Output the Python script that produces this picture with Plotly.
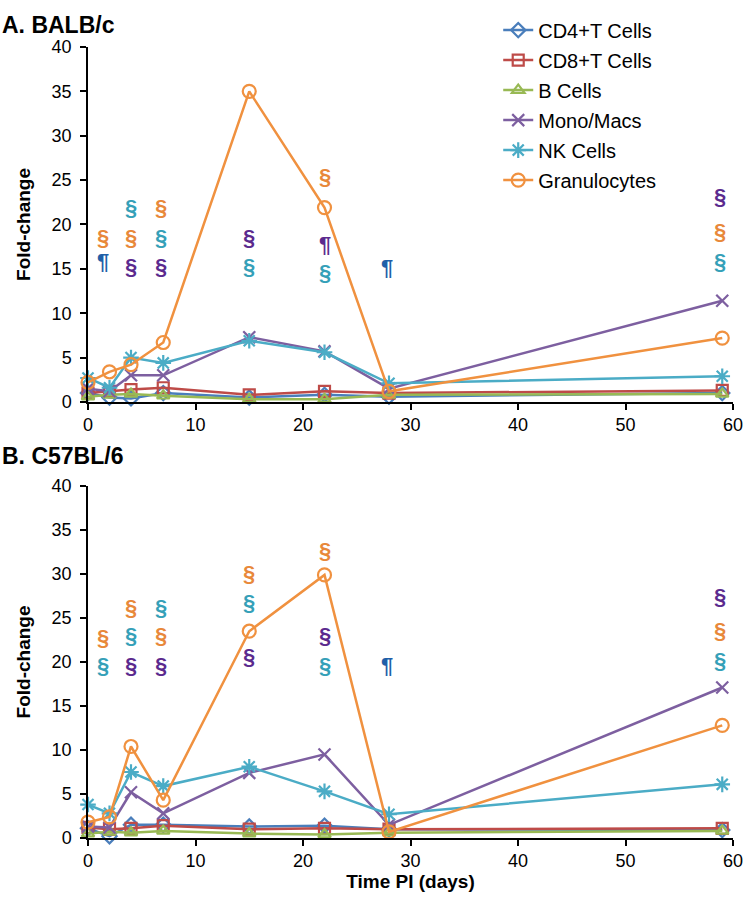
import plotly.graph_objects as go

# ---------------- data ----------------
days = [0, 2, 4, 7, 15, 22, 28, 59]
series_names = ["CD4+T Cells", "CD8+T Cells", "B Cells", "Mono/Macs", "NK Cells", "Granulocytes"]

balb_cd4 = [1.0, 0.5, 0.4, 1.0, 0.5, 0.8, 0.6, 1.0]
balb_cd8 = [1.0, 1.2, 1.4, 1.6, 0.8, 1.2, 1.0, 1.3]
balb_b = [0.6, 0.8, 0.9, 0.7, 0.3, 0.3, 0.8, 0.9]
balb_mono = [1.5, 1.2, 3.0, 3.0, 7.3, 5.7, 1.5, 11.4]
balb_nk = [2.7, 1.6, 5.0, 4.4, 6.9, 5.6, 2.1, 2.9]
balb_gran = [2.2, 3.4, 4.2, 6.7, 35.0, 21.9, 1.2, 7.2]

c57_cd4 = [1.1, 0.2, 1.5, 1.5, 1.3, 1.4, 1.0, 0.9]
c57_cd8 = [1.2, 1.0, 1.1, 1.4, 1.0, 1.1, 1.0, 1.1]
c57_b = [0.5, 0.7, 0.6, 0.8, 0.5, 0.4, 0.6, 0.8]
c57_mono = [1.3, 1.2, 5.2, 2.8, 7.4, 9.5, 1.5, 17.1]
c57_nk = [3.8, 2.8, 7.5, 5.9, 8.1, 5.3, 2.7, 6.1]
c57_gran = [1.8, 2.4, 10.4, 4.3, 23.5, 29.9, 0.7, 12.8]

y_ticks = [0, 5, 10, 15, 20, 25, 30, 35, 40]
x_ticks = [0, 10, 20, 30, 40, 50, 60]

# significance marks: day position, level, symbol, series
balb_sig_x = [1.4, 1.4, 4, 4, 4, 6.8, 6.8, 6.8, 15, 15, 22, 22, 22, 27.8, 58.8, 58.8, 58.8]
balb_sig_y = [18.5, 15.8, 21.9, 18.5, 15.3, 21.9, 18.5, 15.3, 18.5, 15.3, 25.4, 17.7, 14.6, 15.2, 23.1, 19.2, 15.8]
balb_sig_t = ["§", "¶", "§", "§", "§", "§", "§", "§", "§", "§", "§", "¶", "§", "¶", "§", "§", "§"]
balb_sig_s = ["Granulocytes", "CD4+T Cells", "NK Cells", "Granulocytes", "Mono/Macs",
              "Granulocytes", "NK Cells", "Mono/Macs", "Mono/Macs", "NK Cells",
              "Granulocytes", "Mono/Macs", "NK Cells", "CD4+T Cells",
              "Mono/Macs", "Granulocytes", "NK Cells"]

c57_sig_x = [1.4, 1.4, 4, 4, 4, 6.8, 6.8, 6.8, 15, 15, 15, 22, 22, 22, 27.8, 58.8, 58.8, 58.8]
c57_sig_y = [22.8, 19.6, 26.2, 23.0, 19.6, 26.2, 23.0, 19.6, 30.1, 26.8, 20.6, 32.7, 23.0, 19.6, 19.6, 27.5, 23.6, 20.2]
c57_sig_t = ["§", "§", "§", "§", "§", "§", "§", "§", "§", "§", "§", "§", "§", "§", "¶", "§", "§", "§"]
c57_sig_s = ["Granulocytes", "NK Cells", "Granulocytes", "NK Cells", "Mono/Macs",
             "NK Cells", "Granulocytes", "Mono/Macs", "Granulocytes", "NK Cells", "Mono/Macs",
             "Granulocytes", "Mono/Macs", "NK Cells", "CD4+T Cells",
             "Mono/Macs", "Granulocytes", "NK Cells"]

# ---------------- styles ----------------
line_colors = {
    "CD4+T Cells": "#4A7EBB",
    "CD8+T Cells": "#BE4B48",
    "B Cells": "#98B954",
    "Mono/Macs": "#7D5FA0",
    "NK Cells": "#4BACC6",
    "Granulocytes": "#F0913F",
}
sig_colors = {
    "CD4+T Cells": "#1F5FA8",
    "Mono/Macs": "#5B2A8E",
    "NK Cells": "#35A0B8",
    "Granulocytes": "#E8883A",
}
symbols = {
    "CD4+T Cells": "diamond-open",
    "CD8+T Cells": "square-open",
    "B Cells": "triangle-up-open",
    "Mono/Macs": "x-thin-open",
    "NK Cells": "asterisk-open",
    "Granulocytes": "circle-open",
}
sizes = {
    "CD4+T Cells": 11,
    "CD8+T Cells": 11,
    "B Cells": 11,
    "Mono/Macs": 12,
    "NK Cells": 13,
    "Granulocytes": 13,
}

FONT = "Liberation Sans, Arial, sans-serif"

fig = go.Figure()

panels = [
    ("x", "y", [balb_cd4, balb_cd8, balb_b, balb_mono, balb_nk, balb_gran], True),
    ("x2", "y2", [c57_cd4, c57_cd8, c57_b, c57_mono, c57_nk, c57_gran], False),
]
for xa, ya, vals, show in panels:
    for name, v in zip(series_names, vals):
        fig.add_trace(go.Scatter(
            x=days, y=v, name=name, mode="lines+markers",
            xaxis=xa, yaxis=ya, showlegend=show, legendgroup=name,
            cliponaxis=False,
            line=dict(color=line_colors[name], width=2.5),
            marker=dict(symbol=symbols[name], size=sizes[name],
                        color=line_colors[name],
                        line=dict(color=line_colors[name], width=2.2)),
        ))

annotations = []
for xs, ys, ts, ss, xr, yr in [
    (balb_sig_x, balb_sig_y, balb_sig_t, balb_sig_s, "x", "y"),
    (c57_sig_x, c57_sig_y, c57_sig_t, c57_sig_s, "x2", "y2"),
]:
    for x, y, t, s in zip(xs, ys, ts, ss):
        annotations.append(dict(
            x=x, y=y, xref=xr, yref=yr, text="<b>" + t + "</b>", showarrow=False,
            xanchor="center", yanchor="middle",
            font=dict(family=FONT, size=22, color=sig_colors[s]),
        ))

# panel titles
annotations.append(dict(text="<b>A. BALB/c</b>", xref="paper", yref="paper",
                        x=-0.137, y=1.028, xanchor="left", yanchor="middle",
                        showarrow=False, font=dict(family=FONT, size=23, color="black")))
annotations.append(dict(text="<b>B. C57BL/6</b>", xref="paper", yref="paper",
                        x=-0.137, y=0.4825, xanchor="left", yanchor="middle",
                        showarrow=False, font=dict(family=FONT, size=23, color="black")))

axis_common = dict(
    showline=True, linecolor="black", linewidth=1.5,
    ticks="outside", tickcolor="black", ticklen=6, tickwidth=1.5,
    showgrid=False, zeroline=False,
    tickfont=dict(family=FONT, size=18, color="black"),
)

fig.update_layout(
    width=754, height=901,
    margin=dict(l=88, r=11, t=38, b=63),
    paper_bgcolor="white", plot_bgcolor="white",
    font=dict(family=FONT, color="black"),
    xaxis=dict(domain=[0, 1], anchor="y", range=[0, 60], tickvals=x_ticks, **axis_common),
    yaxis=dict(domain=[0.55125, 1], anchor="x", range=[0, 40], tickvals=y_ticks,
               ticklabelstandoff=5,
               title=dict(text="<b>Fold-change</b>", font=dict(family=FONT, size=19), standoff=16),
               **axis_common),
    xaxis2=dict(domain=[0, 1], anchor="y2", range=[0, 60], tickvals=x_ticks,
                title=dict(text="<b>Time PI (days)</b>", font=dict(family=FONT, size=19), standoff=2),
                **axis_common),
    yaxis2=dict(domain=[0, 0.445], anchor="x2", range=[0, 40], tickvals=y_ticks,
                ticklabelstandoff=5,
                title=dict(text="<b>Fold-change</b>", font=dict(family=FONT, size=19), standoff=16),
                **axis_common),
    legend=dict(x=0.636, y=1.046, xanchor="left", yanchor="top",
                font=dict(family=FONT, size=20, color="black"),
                bgcolor="rgba(255,255,255,0)", tracegroupgap=1,
                itemwidth=30),
    annotations=annotations,
)

fig.write_html("out.html", config={"displayModeBar": False},
               post_script="document.body.style.margin='0';document.body.style.overflow='hidden';")
